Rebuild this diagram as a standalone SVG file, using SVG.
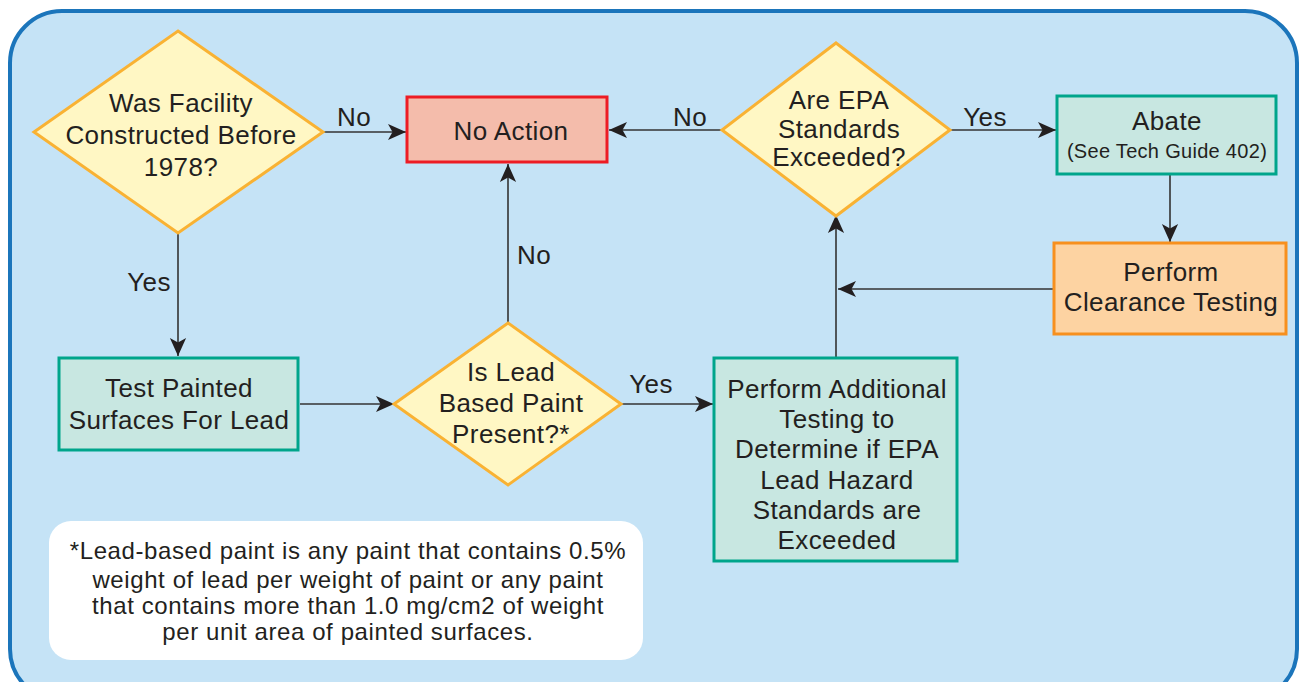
<svg xmlns="http://www.w3.org/2000/svg" width="1302" height="682" viewBox="0 0 1302 682">
<style>
text{font-family:"Liberation Sans",Arial,sans-serif;fill:#231f20;text-anchor:middle}
.t{font-size:26px;letter-spacing:0.4px}
.s{font-size:20px;letter-spacing:0.3px}
.f{font-size:24px;letter-spacing:0.6px}
.dia{fill:#fff7c4;stroke:#f9b233;stroke-width:3}
.teal{fill:#c8e7e1;stroke:#00a58b;stroke-width:3}
.conn line{stroke:#333;stroke-width:1.6}
</style>
<defs>
<marker id="ah" viewBox="0 0 10 10" refX="10" refY="5" markerWidth="18" markerHeight="18" markerUnits="userSpaceOnUse" orient="auto">
<path d="M0,0.5 L10,5 L0,9.5 L2.5,5 Z" fill="#231f20"/>
</marker>
</defs>
<rect x="10" y="11" width="1287" height="690" rx="52" fill="#c5e3f6" stroke="#1b75bb" stroke-width="4"/>
<g id="connectors" class="conn">
<line x1="323" y1="132" x2="406" y2="132" marker-end="url(#ah)"/>
<line x1="722" y1="130" x2="609" y2="130" marker-end="url(#ah)"/>
<line x1="950" y1="130" x2="1056" y2="130" marker-end="url(#ah)"/>
<line x1="1170" y1="174" x2="1170" y2="242" marker-end="url(#ah)"/>
<line x1="1053" y1="289" x2="838" y2="289" marker-end="url(#ah)"/>
<line x1="836" y1="358" x2="836" y2="215" marker-end="url(#ah)"/>
<line x1="178" y1="234" x2="178" y2="356" marker-end="url(#ah)"/>
<line x1="508" y1="323" x2="508" y2="164" marker-end="url(#ah)"/>
<line x1="300" y1="404" x2="394" y2="404" marker-end="url(#ah)"/>
<line x1="621" y1="404" x2="713" y2="404" marker-end="url(#ah)"/>
<text class="t" x="354" y="126">No</text>
<text class="t" x="690" y="126">No</text>
<text class="t" x="985" y="126">Yes</text>
<text class="t" x="534" y="264">No</text>
<text class="t" x="149" y="291">Yes</text>
<text class="t" x="651" y="393">Yes</text>
</g>
<g id="q1978">
<polygon class="dia" points="178,31 323,132 178,233 34,132"/>
<text class="t" x="181" y="112">Was Facility</text>
<text class="t" x="181" y="144">Constructed Before</text>
<text class="t" x="181" y="176">1978?</text>
</g>
<g id="noaction">
<rect x="407" y="97" width="200" height="65" fill="#f4bcab" stroke="#ed1c24" stroke-width="3"/>
<text class="t" x="511" y="140">No Action</text>
</g>
<g id="qepa">
<polygon class="dia" points="836,43 950,130 836,216 722,130"/>
<text class="t" x="839" y="109">Are EPA</text>
<text class="t" x="839" y="138">Standards</text>
<text class="t" x="839" y="166">Exceeded?</text>
</g>
<g id="abate">
<rect x="1057" y="96" width="219" height="78" class="teal"/>
<text class="t" x="1167" y="130">Abate</text>
<text class="s" x="1167" y="158">(See Tech Guide 402)</text>
</g>
<g id="clearance">
<rect x="1054" y="243" width="232" height="91" fill="#fdd3a2" stroke="#f7901e" stroke-width="3"/>
<text class="t" x="1171" y="281">Perform</text>
<text class="t" x="1171" y="311">Clearance Testing</text>
</g>
<g id="testpainted">
<rect x="59" y="358" width="239" height="92" class="teal"/>
<text class="t" x="179" y="397">Test Painted</text>
<text class="t" x="179" y="429">Surfaces For Lead</text>
</g>
<g id="qlead">
<polygon class="dia" points="508,323 621,404 508,485 394,404"/>
<text class="t" x="511" y="381">Is Lead</text>
<text class="t" x="511" y="412">Based Paint</text>
<text class="t" x="511" y="443">Present?*</text>
</g>
<g id="additional">
<rect x="714" y="358" width="243" height="203" class="teal"/>
<text class="t" x="837" y="398">Perform Additional</text>
<text class="t" x="837" y="428">Testing to</text>
<text class="t" x="837" y="458">Determine if EPA</text>
<text class="t" x="837" y="489">Lead Hazard</text>
<text class="t" x="837" y="519">Standards are</text>
<text class="t" x="837" y="549">Exceeded</text>
</g>
<g id="note">
<rect x="49" y="521" width="594" height="139" rx="22" fill="#ffffff"/>
<text class="f" x="348" y="559">*Lead-based paint is any paint that contains 0.5%</text>
<text class="f" x="348" y="588">weight of lead per weight of paint or any paint</text>
<text class="f" x="348" y="614">that contains more than 1.0 mg/cm2 of weight</text>
<text class="f" x="348" y="640">per unit area of painted surfaces.</text>
</g>
</svg>
